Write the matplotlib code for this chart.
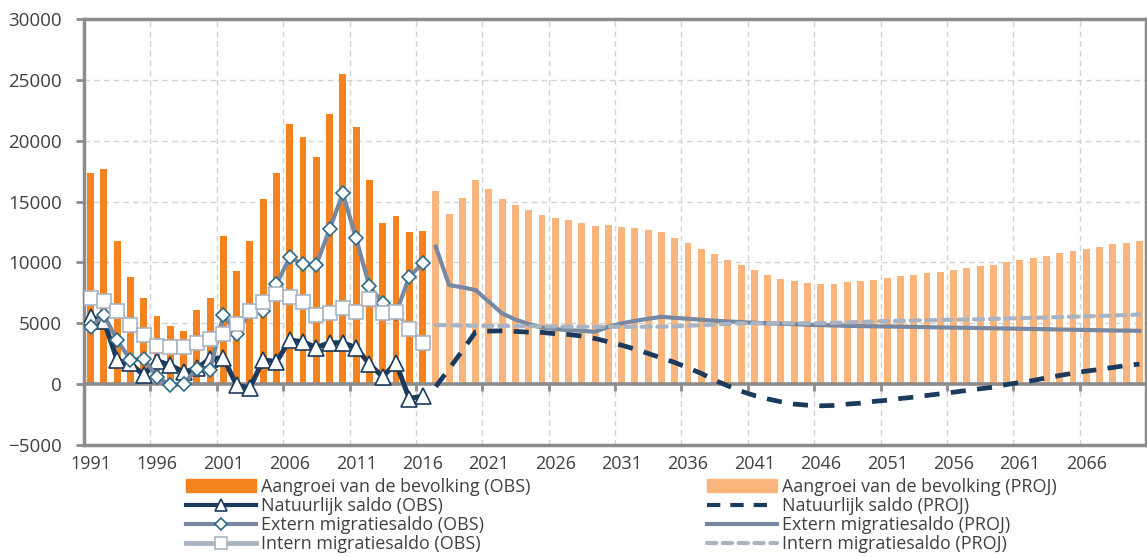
import numpy as np
import matplotlib
matplotlib.use("Agg")
import matplotlib.pyplot as plt
from matplotlib import markers
from matplotlib.lines import Line2D
from matplotlib.patches import Patch

plt.rcParams["font.family"] = ["Open Sans", "DejaVu Sans"]

# ---- data -------------------------------------------------------------
years = list(range(1991, 2071))
n_obs = 26  # 1991-2016 observed, 2017-2070 projected

growth_obs = [17370, 17700, 11800, 8800, 7100, 5600, 4800, 4400, 6100, 7100,
              12200, 9300, 11800, 15200, 17370, 21340, 20270, 18630, 22160, 25480,
              21150, 16770, 13200, 13830, 12520, 12600]
growth_proj = [15900, 14000, 15260, 16800, 16000, 15180, 14710, 14300, 13890, 13670,
               13480, 13260, 12990, 13040, 12930, 12850, 12660, 12500, 12030, 11590,
               11120, 10680, 10190, 9780, 9340, 8990, 8660, 8440, 8270, 8220,
               8220, 8360, 8470, 8580, 8710, 8850, 8960, 9100, 9230, 9370,
               9530, 9700, 9810, 10030, 10190, 10380, 10550, 10770, 10930, 11120,
               11290, 11480, 11620, 11780]

natural_obs = [5480, 5200, 1970, 1700, 740, 1920, 1560, 1000, 1300, 2100,
               2150, -100, -300, 2000, 1840, 3620, 3480, 3010, 3400, 3400,
               3000, 1640, 600, 1750, -1180, -990]
extern_obs = [4710, 5670, 3620, 1970, 2100, 600, -80, 0, 1250, 1150,
              5700, 4100, 6000, 6030, 8220, 10410, 9860, 9800, 12740, 15670,
              11970, 8050, 6680, 5810, 8820, 9920]
intern_obs = [7040, 6850, 6030, 4900, 4030, 3150, 3050, 3070, 3350, 3670,
              4150, 4960, 5990, 6770, 7370, 7120, 6710, 5670, 5810, 6220,
              5940, 6960, 5840, 5940, 4570, 3400]

natural_proj = [-200, 1250, 2750, 4300, 4360, 4380, 4330, 4270, 4250, 4140,
                4080, 3950, 3750, 3480, 3200, 2880, 2520, 2150, 1780, 1340,
                880, 330, -140, -580, -930, -1210, -1450, -1640, -1730, -1780,
                -1750, -1640, -1560, -1420, -1320, -1180, -1070, -930, -790, -660,
                -520, -380, -250, -30, 140, 300, 520, 710, 900, 1070,
                1210, 1370, 1530, 1650]
extern_proj = [11290, 8140, 7950, 7730, 6770, 5810, 5310, 4930, 4660, 4520,
               4440, 4380, 4300, 4710, 4990, 5200, 5370, 5530, 5450, 5370,
               5290, 5210, 5150, 5100, 5040, 5000, 4960, 4930, 4880, 4850,
               4820, 4790, 4770, 4750, 4740, 4720, 4700, 4680, 4660, 4640,
               4630, 4610, 4590, 4570, 4550, 4530, 4510, 4490, 4470, 4450,
               4430, 4410, 4400, 4380]
intern_proj = [4850, 4840, 4820, 4800, 4790, 4780, 4770, 4760, 4750, 4740,
               4730, 4720, 4710, 4710, 4710, 4710, 4710, 4720, 4750, 4800,
               4850, 4900, 4950, 4990, 5000, 5000, 5000, 5000, 5010, 5020,
               5040, 5070, 5110, 5150, 5190, 5210, 5230, 5250, 5270, 5290,
               5310, 5330, 5360, 5390, 5420, 5450, 5480, 5510, 5540, 5570,
               5600, 5640, 5680, 5720]

labels_obs = ["Aangroei van de bevolking (OBS)", "Natuurlijk saldo (OBS)",
              "Extern migratiesaldo (OBS)", "Intern migratiesaldo (OBS)"]
labels_proj = ["Aangroei van de bevolking (PROJ)", "Natuurlijk saldo (PROJ)",
               "Extern migratiesaldo (PROJ)", "Intern migratiesaldo (PROJ)"]

# ---- style ------------------------------------------------------------
C_BAR_OBS = "#F4831F"
C_BAR_PROJ = "#F9B57B"
C_NAT = "#1B3A5C"
C_EXT = "#7888A0"
C_EXT_EDGE = "#2E6A86"
C_INT = "#A9B4C3"
C_AXIS = "#8C8C8C"
C_GRID = "#D2D2D2"
C_TEXT = "#404040"

W, H = 1147, 557
fig = plt.figure(figsize=(W / 100, H / 100), dpi=100)
ax = fig.add_axes([84 / W, 1 - 445 / H, (1146 - 84) / W, (445 - 19) / H])

x = np.arange(len(years))
x_obs, x_proj = x[:n_obs], x[n_obs:]

ax.bar(x_obs, growth_obs, width=0.52, color=C_BAR_OBS, zorder=2)
ax.bar(x_proj, growth_proj, width=0.52, color=C_BAR_PROJ, zorder=2)

# zero line with category tick marks
boundaries = np.arange(4.5, len(years) - 1, 5)
ax.axhline(0, color=C_AXIS, lw=2.6, zorder=3)
ax.plot(boundaries, np.zeros_like(boundaries), ls="none", marker=markers.TICKDOWN,
        ms=5, mew=2, color=C_AXIS, zorder=3, clip_on=False)

# projected lines
ax.plot(x_proj, natural_proj, color=C_NAT, lw=3.4, ls=(0, (3.2, 2.4)), zorder=4)
ax.plot(x_proj, extern_proj, color=C_EXT, lw=3.0, zorder=4)
ax.plot(x_proj, intern_proj, color=C_INT, lw=3.0, ls=(0, (2.2, 1.6)),
        solid_capstyle="round", dash_capstyle="round", zorder=4)

# observed lines with markers
ax.plot(x_obs, natural_obs, color=C_NAT, lw=3.6, marker="^", ms=11,
        mfc="white", mec=C_NAT, mew=1.2, zorder=5)
ax.plot(x_obs, extern_obs, color=C_EXT, lw=3.0, marker="D", ms=7.2,
        mfc="white", mec=C_EXT_EDGE, mew=1.2, zorder=6)
ax.plot(x_obs, intern_obs, color=C_INT, lw=3.0, marker="s", ms=9.5,
        mfc="white", mec=C_INT, mew=1.2, zorder=7)

# axes, ticks and grid
ax.set_xlim(-0.5, len(years) - 0.5)
ax.set_ylim(-5000, 30000)
ax.set_yticks(np.arange(-5000, 30001, 5000))
ax.set_xticks(x[::5], [str(y) for y in years[::5]])
ax.set_xticks(boundaries, minor=True)
ax.tick_params(axis="x", which="both", length=0, labelsize=13, colors=C_TEXT, pad=7)
ax.tick_params(axis="y", length=6, width=2, color=C_AXIS, labelsize=13.5,
               labelcolor=C_TEXT, pad=10)
ax.grid(axis="y", which="major", color=C_GRID, lw=1, ls=(0, (4, 3)), zorder=0)
ax.grid(axis="x", which="minor", color=C_GRID, lw=1, ls=(0, (4, 3)), zorder=0)
ax.set_axisbelow(True)
for side in ["left", "right", "top", "bottom"]:
    ax.spines[side].set_color(C_AXIS)
    ax.spines[side].set_linewidth(2.5)

# legends
h_obs = [Patch(color=C_BAR_OBS),
         Line2D([], [], color=C_NAT, lw=3, marker="^", ms=9, mfc="white", mec=C_NAT, mew=1.2),
         Line2D([], [], color=C_EXT, lw=3, marker="D", ms=6, mfc="white", mec=C_EXT_EDGE, mew=1.2),
         Line2D([], [], color=C_INT, lw=3.5, marker="s", ms=8, mfc="white", mec=C_INT, mew=1.2)]
h_proj = [Patch(color=C_BAR_PROJ),
          Line2D([], [], color=C_NAT, lw=3, ls=(0, (3.2, 2.4))),
          Line2D([], [], color=C_EXT, lw=3),
          Line2D([], [], color=C_INT, lw=3, ls=(0, (2.2, 1.6)), dash_capstyle="round")]

common = dict(loc="upper left", frameon=False, fontsize=12.9, handlelength=3.9,
              handleheight=0.72, handletextpad=0.3, labelspacing=0.06,
              borderpad=0, borderaxespad=0, labelcolor=C_TEXT)
leg1 = fig.legend(h_obs, labels_obs, bbox_to_anchor=(186 / W, 1 - 478 / H), **common)
leg2 = fig.legend(h_proj, labels_proj, bbox_to_anchor=(707 / W, 1 - 478 / H), **common)

fig.savefig("out.png", dpi=100)
